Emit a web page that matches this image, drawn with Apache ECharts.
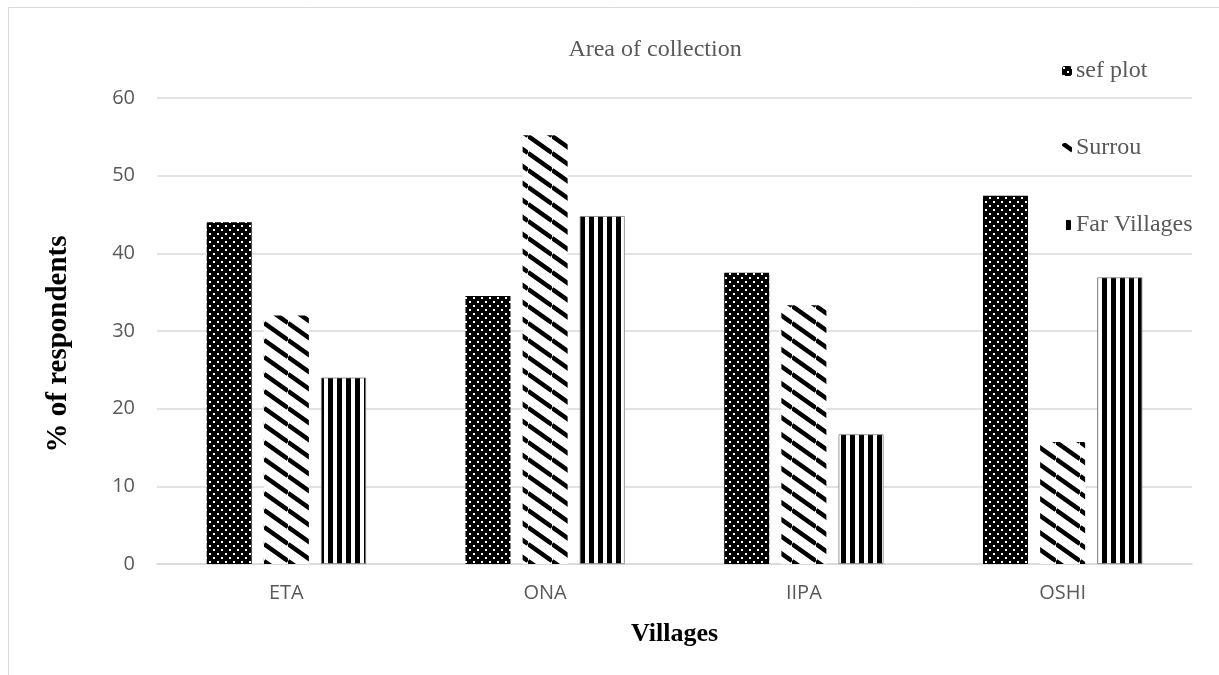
<!DOCTYPE html>
<html>
<head>
<meta charset="utf-8">
<script src="https://cdn.jsdelivr.net/npm/echarts@6/dist/echarts.min.js"></script>
<style>
  html, body { margin: 0; padding: 0; background: #fff; }
  #chart { width: 1219px; height: 675px; }
</style>
</head>
<body>
<div id="chart"></div>
<script>
// Villages on the x axis
const villages = ['ETA', 'ONA', 'IIPA', 'OSHI'];
// Series names
const seriesNames = ['sef plot', 'Surrou', 'Far Villages'];
// % of respondents per collection area
const sefPlot = [44.0, 34.5, 37.5, 47.4];
const surrou = [32.0, 55.2, 33.3, 15.7];
const farVillages = [24.0, 44.8, 16.7, 36.9];
// Y axis ticks
const yTicks = [0, 10, 20, 30, 40, 50, 60];

// Fill patterns drawn on small canvases
function dotPattern() {
  const c = document.createElement('canvas');
  c.width = 8; c.height = 8;
  const g = c.getContext('2d');
  g.fillStyle = '#000'; g.fillRect(0, 0, 8, 8);
  g.fillStyle = '#fff';
  g.fillRect(1, 1, 2, 2);
  g.fillRect(5, 5, 2, 2);
  return { image: c, repeat: 'repeat' };
}
function diagPattern() {
  const W = 24, H = 17;
  const c = document.createElement('canvas');
  c.width = W; c.height = H;
  const g = c.getContext('2d');
  g.fillStyle = '#fff'; g.fillRect(0, 0, W, H);
  g.strokeStyle = '#000'; g.lineWidth = 4.5;
  for (let n = -1; n <= 1; n++) {
    g.beginPath();
    g.moveTo(0, n * H);
    g.lineTo(W, n * H + H);
    g.stroke();
  }
  return { image: c, repeat: 'repeat' };
}
function vertPattern() {
  const c = document.createElement('canvas');
  c.width = 9; c.height = 4;
  const g = c.getContext('2d');
  g.fillStyle = '#fff'; g.fillRect(0, 0, 9, 4);
  g.fillStyle = '#000'; g.fillRect(4, 0, 5, 4);
  return { image: c, repeat: 'repeat' };
}

const fills = [dotPattern(), diagPattern(), vertPattern()];
const edges = [null, null, '#7f7f7f'];
const values = [sefPlot, surrou, farVillages];
const legendTops = [54, 131, 208];

const chart = echarts.init(document.getElementById('chart'), null, { renderer: 'canvas' });

const serif = '"Liberation Serif", "DejaVu Serif", serif';
const sans = '"Open Sans", "Liberation Sans", sans-serif';

chart.setOption({
  animation: false,
  backgroundColor: '#fff',
  graphic: [{
    type: 'rect',
    shape: { x: 8.5, y: 7.5, width: 1240, height: 700 },
    style: { fill: 'none', stroke: '#d9d9d9', lineWidth: 1 },
    silent: true
  }],
  title: {
    text: 'Area of collection',
    left: 650, top: 33, textAlign: 'center',
    textStyle: { fontFamily: serif, fontSize: 24, fontWeight: 'normal', color: '#595959' }
  },
  legend: seriesNames.map((n, i) => ({
    data: [n],
    orient: 'vertical',
    left: 1057, top: legendTops[i],
    itemWidth: 10, itemHeight: 10, itemGap: 4,
    itemStyle: { borderWidth: 0 },
    textStyle: { fontFamily: serif, fontSize: 24, color: '#595959', padding: [0, 0, 0, -1] }
  })),
  grid: { left: 157, right: 27, top: 98, bottom: 111, containLabel: false },
  xAxis: {
    type: 'category',
    data: villages,
    name: 'Villages',
    nameLocation: 'middle',
    nameGap: 57,
    nameTextStyle: { fontFamily: serif, fontSize: 26, fontWeight: 'bold', color: '#000' },
    axisLine: { lineStyle: { color: '#d9d9d9', width: 1.5 } },
    axisTick: { show: false },
    axisLabel: { fontFamily: sans, fontSize: 20, color: '#595959', margin: 19 }
  },
  yAxis: {
    type: 'value',
    min: yTicks[0], max: yTicks[yTicks.length - 1], interval: 10,
    name: '% of respondents',
    nameLocation: 'middle',
    nameRotate: 90,
    nameGap: 84,
    nameTextStyle: { fontFamily: serif, fontSize: 29, fontWeight: 'bold', color: '#000', padding: [0, 26, 0, 0] },
    axisLine: { show: false },
    axisTick: { show: false },
    splitLine: { lineStyle: { color: '#d9d9d9', width: 1.5 } },
    axisLabel: { fontFamily: sans, fontSize: 20, color: '#595959', margin: 22 }
  },
  series: seriesNames.map((n, i) => ({
    name: n,
    type: 'bar',
    data: values[i],
    barWidth: 45,
    barGap: '27%',
    itemStyle: edges[i]
      ? { color: fills[i], borderColor: edges[i], borderWidth: 0.8 }
      : { color: fills[i] }
  }))
});
</script>
</body>
</html>
